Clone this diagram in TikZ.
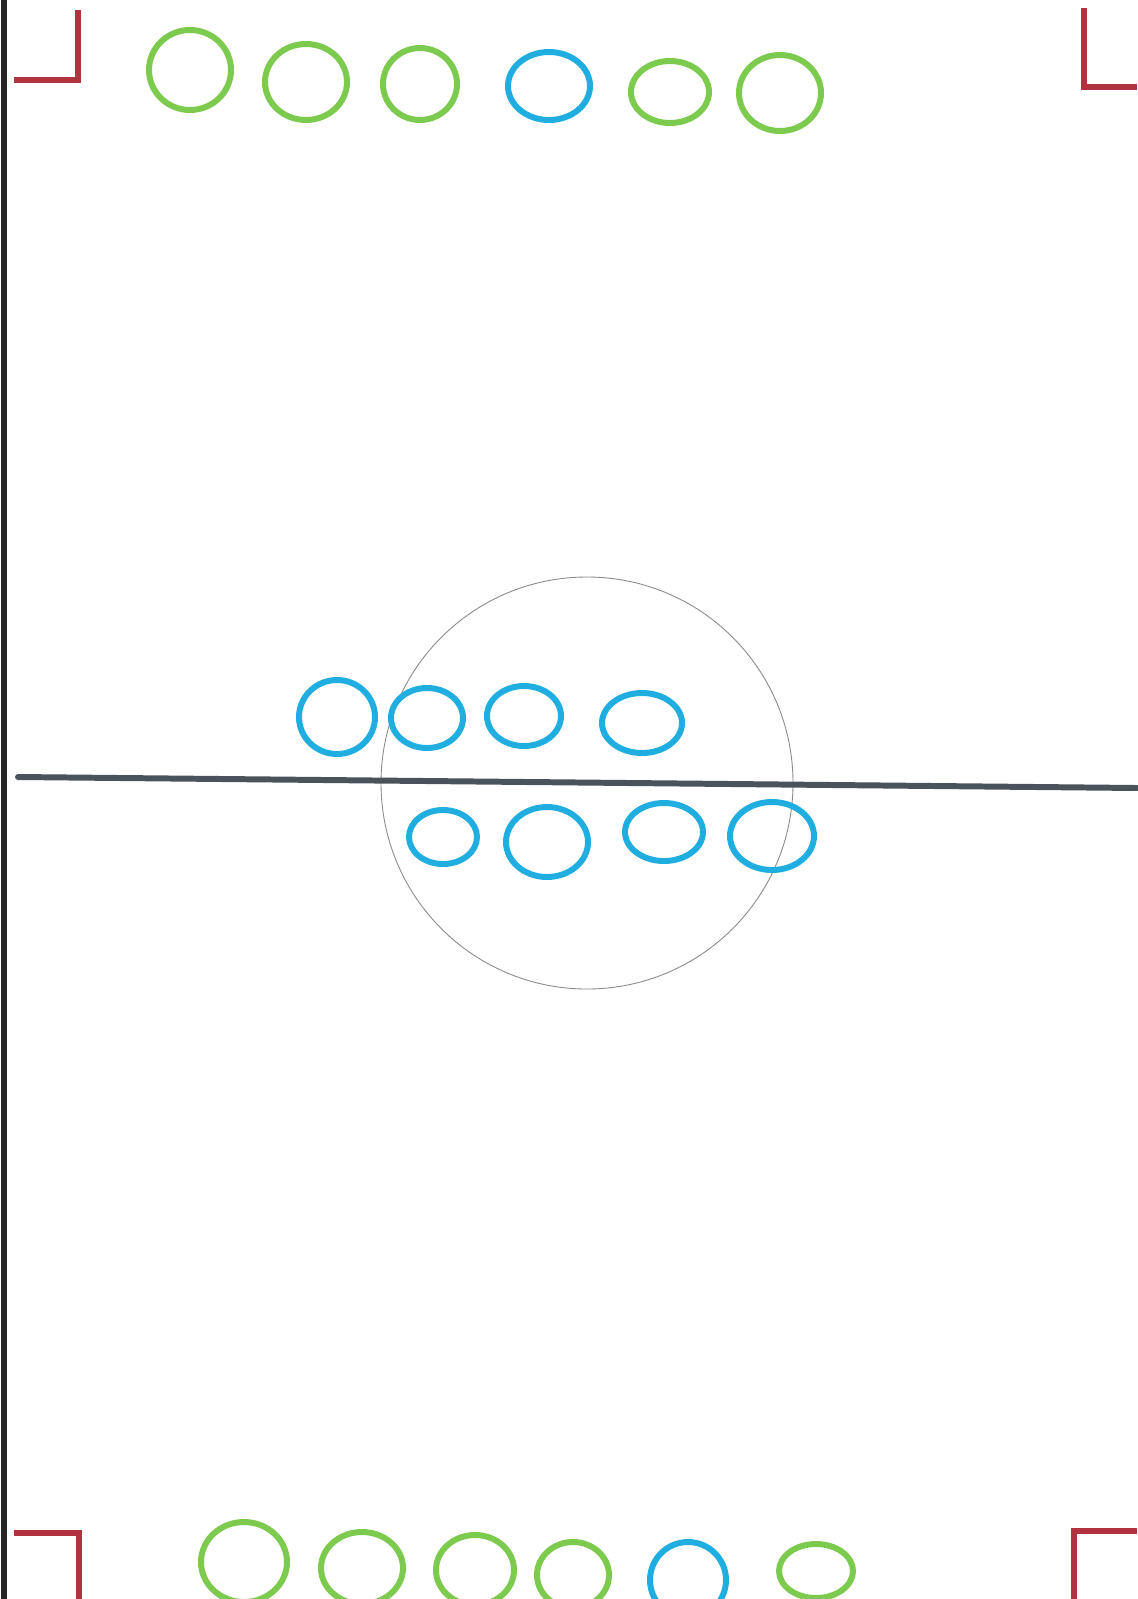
\documentclass[tikz,border=0pt]{standalone}
\definecolor{grass}{HTML}{7DCB4E}
\definecolor{sky}{HTML}{1FAEDF}
\definecolor{brick}{HTML}{B2323F}
\definecolor{ink}{HTML}{4A525C}
\definecolor{pencil}{HTML}{8A8A8A}
\usepackage{tikz}

\begin{document}
\begin{tikzpicture}[
  x=0.02cm, y=-0.02cm,
  marker/.style={line width=3.4pt},
  green/.style={marker, draw=grass},
  blue/.style={marker, draw=sky},
  corner/.style={draw=brick, line width=3.4pt},
]
\useasboundingbox[fill=white] (0,0) rectangle (1137,1599);

% paper edge
\draw[black!85, line width=3pt] (4,0) -- (4,1599);

% corners
\draw[corner] (14,80) -- (78,80) -- (78,10);
\draw[corner] (1084,8) -- (1084,87) -- (1137,87);
\draw[corner] (14,1533) -- (79,1533) -- (79,1599);
\draw[corner] (1137,1531) -- (1074,1531) -- (1074,1599);

% centre circle and halfway line
\draw[pencil, line width=0.5pt] (587,783) circle (206);
\draw[ink, line width=3.4pt, line cap=round] (18,777) -- (1137,788);

% top row
\foreach \cx/\cy/\rx/\ry/\col in {190/70/41/40/green, 306/82/41/38/green,
    420/84/37/36/green, 549/86/41/34/blue, 670/92/39/31/green, 780/93/41/38/green}
  \draw[\col] (\cx,\cy) ellipse [x radius=\rx, y radius=\ry];

% bottom row
\foreach \cx/\cy/\rx/\ry/\col in {244/1562/43/40/green, 362/1568/41/36/green,
    475/1570/39/35/green, 573/1575/36/33/green, 688/1580/38/38/blue, 816/1571/37/27/green}
  \draw[\col] (\cx,\cy) ellipse [x radius=\rx, y radius=\ry];

% middle, above the line
\foreach \cx/\cy/\rx/\ry in {337/717/38/37, 427/718/36/30, 524/716/37/30, 642/723/40/30}
  \draw[blue] (\cx,\cy) ellipse [x radius=\rx, y radius=\ry];

% middle, below the line
\foreach \cx/\cy/\rx/\ry in {443/837/34/27, 547/842/41/35, 664/832/39/29, 772/836/42/34}
  \draw[blue] (\cx,\cy) ellipse [x radius=\rx, y radius=\ry];
\end{tikzpicture}
\end{document}
